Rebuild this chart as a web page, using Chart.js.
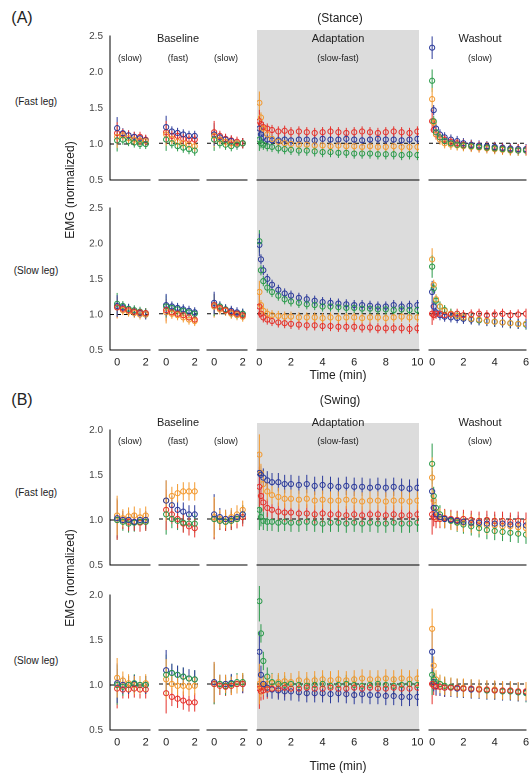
<!DOCTYPE html>
<html>
<head>
<meta charset="utf-8">
<script src="https://cdn.jsdelivr.net/npm/chart.js"></script>
<style>
  body { margin: 0; width: 531px; height: 776px; overflow: hidden; background: #fff; position: relative; font-family: "Liberation Sans", Arial, sans-serif; color: #222; }
  .t { position: absolute; white-space: nowrap; transform: translate(-50%, -50%); }
  .band { position: absolute; background: #dcdcdc; }
  canvas { position: absolute; }
</style>
</head>
<body>
<script>
// time points
const baseT = [0, 0.4, 0.8, 1.2, 1.6, 2.0];
const adaptT = [0, 0.1, 0.25, 0.5, 0.8, 1.2, 1.6, 2, 2.5, 3, 3.5, 4, 4.5, 5, 5.5, 6, 6.5, 7, 7.5, 8, 8.5, 9, 9.5, 10];
const washT = [0, 0.1, 0.25, 0.5, 0.8, 1.2, 1.6, 2, 2.5, 3, 3.5, 4, 4.5, 5, 5.5, 6];

const baseTicks = [0, 2];
const adaptTicks = [0, 2, 4, 6, 8, 10];
const washTicks = [0, 2, 4, 6];

// (A) Stance, fast leg  -- baseline arrays hold slow / fast / slow blocks of 6
const aFastBlueBase = [1.22,1.15,1.12,1.1,1.08,1.05, 1.22,1.16,1.14,1.12,1.1,1.1, 1.12,1.08,1.05,1.03,1.0,1.0];
const aFastRedBase = [1.15,1.14,1.12,1.1,1.1,1.06, 1.15,1.1,1.1,1.06,1.05,1.05, 1.15,1.1,1.06,1.04,1.02,1.0];
const aFastOrangeBase = [1.1,1.12,1.08,1.06,1.05,1.04, 1.12,1.06,1.02,1.0,0.98,0.96, 1.1,1.05,1.02,1.0,1.0,1.0];
const aFastGreenBase = [1.05,1.06,1.04,1.02,1.0,1.0, 1.05,1.0,0.96,0.94,0.92,0.9, 1.05,1.0,0.98,0.96,0.98,1.0];
const aFastBlueAdapt = [1.2,1.12,1.08,1.05,1.04,1.04,1.05,1.04,1.05,1.05,1.04,1.06,1.05,1.05,1.06,1.05,1.04,1.05,1.06,1.05,1.05,1.04,1.05,1.06];
const aFastRedAdapt = [1.3,1.26,1.22,1.2,1.18,1.16,1.17,1.15,1.16,1.15,1.14,1.15,1.16,1.15,1.14,1.15,1.16,1.15,1.14,1.15,1.16,1.15,1.14,1.16];
const aFastOrangeAdapt = [1.55,1.35,1.2,1.12,1.06,1.02,1.0,0.99,0.98,0.98,0.97,0.97,0.96,0.97,0.96,0.96,0.95,0.96,0.95,0.95,0.96,0.95,0.95,0.95];
const aFastGreenAdapt = [1.05,1.0,0.98,0.96,0.95,0.93,0.92,0.91,0.9,0.9,0.89,0.88,0.88,0.87,0.87,0.86,0.86,0.86,0.85,0.85,0.85,0.84,0.85,0.84];
const aFastBlueWash = [2.3,1.45,1.2,1.12,1.08,1.05,1.03,1.0,0.98,0.97,0.96,0.95,0.94,0.93,0.92,0.92];
const aFastRedWash = [1.3,1.18,1.12,1.08,1.05,1.02,1.0,0.98,0.97,0.96,0.95,0.94,0.93,0.92,0.92,0.91];
const aFastOrangeWash = [1.6,1.28,1.12,1.05,1.0,0.98,0.97,0.96,0.95,0.94,0.93,0.92,0.91,0.9,0.9,0.9];
const aFastGreenWash = [1.85,1.3,1.15,1.08,1.03,1.0,0.98,0.97,0.96,0.95,0.94,0.93,0.92,0.91,0.9,0.9];

// (A) Stance, slow leg
const aSlowBlueBase = [1.12,1.1,1.08,1.04,1.02,1.0, 1.12,1.1,1.08,1.06,1.04,1.02, 1.15,1.1,1.06,1.04,1.02,1.0];
const aSlowRedBase = [1.1,1.08,1.06,1.04,1.03,1.02, 1.05,1.02,1.0,0.98,0.95,0.92, 1.12,1.08,1.05,1.02,1.0,0.98];
const aSlowOrangeBase = [1.1,1.06,1.04,1.02,1.0,1.0, 1.02,1.0,0.98,0.95,0.92,0.9, 1.1,1.06,1.04,1.0,0.98,0.96];
const aSlowGreenBase = [1.15,1.12,1.08,1.06,1.04,1.02, 1.1,1.08,1.06,1.04,1.02,1.0, 1.12,1.1,1.06,1.02,1.0,1.0];
const aSlowBlueAdapt = [1.95,1.75,1.6,1.48,1.4,1.33,1.28,1.25,1.22,1.2,1.18,1.16,1.15,1.14,1.13,1.12,1.12,1.11,1.1,1.1,1.12,1.1,1.11,1.12];
const aSlowRedAdapt = [1.1,1.0,0.95,0.92,0.9,0.88,0.87,0.86,0.85,0.84,0.84,0.83,0.83,0.82,0.82,0.82,0.81,0.81,0.8,0.8,0.8,0.8,0.79,0.8];
const aSlowOrangeAdapt = [1.3,1.12,1.04,1.0,0.98,0.97,0.96,0.96,0.95,0.95,0.95,0.94,0.95,0.94,0.95,0.95,0.94,0.95,0.95,0.94,0.95,0.96,0.95,0.95];
const aSlowGreenAdapt = [2.0,1.6,1.45,1.36,1.3,1.25,1.2,1.17,1.15,1.13,1.12,1.1,1.1,1.09,1.08,1.08,1.07,1.07,1.06,1.06,1.05,1.06,1.05,1.05];
const aSlowBlueWash = [1.3,1.1,1.02,0.98,0.96,0.95,0.94,0.93,0.92,0.91,0.9,0.89,0.88,0.87,0.86,0.86];
const aSlowRedWash = [1.0,0.98,1.0,1.0,0.98,0.99,1.0,0.98,0.99,1.0,0.98,0.99,1.0,0.98,0.99,1.0];
const aSlowOrangeWash = [1.75,1.4,1.2,1.1,1.04,1.0,0.97,0.95,0.93,0.92,0.9,0.89,0.88,0.87,0.86,0.86];
const aSlowGreenWash = [1.65,1.35,1.18,1.1,1.05,1.0,0.97,0.95,0.93,0.91,0.9,0.89,0.88,0.87,0.86,0.85];

// (B) Swing, fast leg
const bFastBlueBase = [1.02,1.0,1.0,0.98,1.0,1.0, 1.2,1.15,1.1,1.08,1.05,1.05, 1.05,1.02,1.0,1.0,1.02,1.05];
const bFastRedBase = [1.0,1.0,0.98,0.98,0.97,0.98, 1.1,1.05,1.0,0.95,0.92,0.9, 1.0,0.98,0.97,0.98,1.0,1.02];
const bFastOrangeBase = [1.05,1.02,1.04,1.05,1.03,1.05, 1.2,1.25,1.28,1.3,1.3,1.3, 1.02,1.0,1.0,1.02,1.05,1.1];
const bFastGreenBase = [1.0,0.98,0.96,0.97,0.98,0.98, 1.05,1.0,0.98,0.96,0.95,0.95, 1.0,0.98,0.97,0.98,1.0,1.05];
const bFastBlueAdapt = [1.5,1.48,1.45,1.42,1.4,1.4,1.38,1.38,1.37,1.38,1.36,1.37,1.36,1.35,1.36,1.35,1.35,1.34,1.35,1.34,1.35,1.34,1.33,1.34];
const bFastRedAdapt = [1.35,1.25,1.18,1.12,1.1,1.08,1.07,1.07,1.06,1.06,1.05,1.06,1.05,1.05,1.04,1.05,1.04,1.05,1.05,1.04,1.05,1.04,1.04,1.05];
const bFastOrangeAdapt = [1.7,1.5,1.38,1.3,1.26,1.24,1.22,1.22,1.21,1.22,1.2,1.21,1.2,1.2,1.21,1.2,1.19,1.2,1.2,1.19,1.2,1.2,1.19,1.2];
const bFastGreenAdapt = [1.1,1.02,0.98,0.97,0.97,0.96,0.97,0.96,0.96,0.97,0.96,0.95,0.96,0.96,0.95,0.96,0.95,0.96,0.95,0.95,0.96,0.95,0.95,0.96];
const bFastBlueWash = [1.3,1.12,1.05,1.02,1.0,0.99,0.98,0.97,0.96,0.96,0.95,0.95,0.95,0.94,0.94,0.93];
const bFastRedWash = [1.05,1.02,1.0,1.0,1.01,1.0,0.99,1.0,0.99,0.98,0.99,0.98,0.98,0.97,0.98,0.97];
const bFastOrangeWash = [1.45,1.2,1.08,1.02,1.0,0.98,0.97,0.96,0.95,0.94,0.93,0.93,0.92,0.92,0.91,0.9];
const bFastGreenWash = [1.6,1.25,1.12,1.05,1.0,0.98,0.96,0.94,0.92,0.9,0.88,0.87,0.86,0.85,0.84,0.83];

// (B) Swing, slow leg
const bSlowBlueBase = [1.02,1.0,1.0,1.01,1.0,1.0, 1.15,1.12,1.1,1.08,1.06,1.05, 1.02,1.0,1.0,1.01,1.0,1.0];
const bSlowRedBase = [0.96,0.95,0.95,0.96,0.95,0.95, 0.9,0.86,0.84,0.82,0.8,0.8, 1.0,0.98,0.97,0.98,1.0,1.0];
const bSlowOrangeBase = [1.08,1.05,1.02,1.0,1.0,1.02, 1.05,1.0,0.98,0.98,0.97,0.98, 1.02,1.0,1.0,0.98,1.0,1.02];
const bSlowGreenBase = [1.0,0.98,1.0,1.02,1.0,1.0, 1.1,1.12,1.1,1.08,1.06,1.05, 1.0,1.0,0.98,1.0,1.02,1.02];
const bSlowBlueAdapt = [1.35,1.1,1.0,0.96,0.94,0.93,0.92,0.92,0.91,0.9,0.9,0.9,0.89,0.9,0.89,0.88,0.89,0.88,0.88,0.87,0.87,0.86,0.86,0.86];
const bSlowRedAdapt = [0.95,0.92,0.93,0.94,0.95,0.95,0.96,0.95,0.95,0.96,0.95,0.95,0.96,0.95,0.95,0.96,0.95,0.96,0.95,0.95,0.96,0.95,0.95,0.96];
const bSlowOrangeAdapt = [1.0,0.96,0.98,1.0,1.01,1.02,1.03,1.02,1.04,1.03,1.04,1.05,1.04,1.05,1.04,1.05,1.06,1.05,1.05,1.06,1.05,1.06,1.05,1.06];
const bSlowGreenAdapt = [1.9,1.55,1.25,1.08,1.02,1.0,0.99,1.0,0.99,0.98,0.99,1.0,0.98,0.99,1.0,0.99,0.98,0.99,1.0,0.99,0.98,0.99,1.0,0.99];
const bSlowBlueWash = [1.35,1.02,0.98,0.97,0.96,0.96,0.95,0.95,0.94,0.94,0.93,0.93,0.92,0.92,0.91,0.91];
const bSlowRedWash = [1.0,0.98,0.97,0.97,0.96,0.96,0.96,0.95,0.95,0.94,0.94,0.93,0.93,0.93,0.92,0.92];
const bSlowOrangeWash = [1.6,1.2,1.05,1.0,0.98,0.97,0.96,0.96,0.95,0.95,0.94,0.94,0.93,0.93,0.92,0.92];
const bSlowGreenWash = [1.1,1.05,1.02,1.0,0.98,0.97,0.96,0.95,0.95,0.94,0.93,0.93,0.92,0.92,0.91,0.9];

const colors = { blue: '#2b3a9a', red: '#e5312b', orange: '#f3992e', green: '#2a9a4a' };
const stanceErr = 0.07;
const swingErr = 0.1;

// layout
const segs = [
  { l: 110, r: 150, min: -0.5, max: 2.3, ticks: baseTicks, t: baseT, block: 0 },
  { l: 159, r: 199, min: -0.5, max: 2.3, ticks: baseTicks, t: baseT, block: 1 },
  { l: 207, r: 247, min: -0.5, max: 2.3, ticks: baseTicks, t: baseT, block: 2 },
  { l: 257, r: 419, min: -0.15, max: 10.1, ticks: adaptTicks, t: adaptT, block: 'adapt' },
  { l: 429, r: 526, min: -0.2, max: 6, ticks: washTicks, t: washT, block: 'wash' }
];

const rows = [
  { top: 33, bot: 180, min: 0.5, max: 2.5, err: stanceErr, labels: false,
    s: { green: [aFastGreenBase, aFastGreenAdapt, aFastGreenWash], orange: [aFastOrangeBase, aFastOrangeAdapt, aFastOrangeWash],
         blue: [aFastBlueBase, aFastBlueAdapt, aFastBlueWash], red: [aFastRedBase, aFastRedAdapt, aFastRedWash] } },
  { top: 205, bot: 350, min: 0.5, max: 2.5, err: stanceErr, labels: true,
    s: { red: [aSlowRedBase, aSlowRedAdapt, aSlowRedWash], orange: [aSlowOrangeBase, aSlowOrangeAdapt, aSlowOrangeWash],
         green: [aSlowGreenBase, aSlowGreenAdapt, aSlowGreenWash], blue: [aSlowBlueBase, aSlowBlueAdapt, aSlowBlueWash] } },
  { top: 427, bot: 565, min: 0.5, max: 2.0, err: swingErr, labels: false,
    s: { blue: [bFastBlueBase, bFastBlueAdapt, bFastBlueWash], green: [bFastGreenBase, bFastGreenAdapt, bFastGreenWash],
         red: [bFastRedBase, bFastRedAdapt, bFastRedWash], orange: [bFastOrangeBase, bFastOrangeAdapt, bFastOrangeWash] } },
  { top: 592, bot: 730, min: 0.5, max: 2.0, err: swingErr, labels: true,
    s: { red: [bSlowRedBase, bSlowRedAdapt, bSlowRedWash], green: [bSlowGreenBase, bSlowGreenAdapt, bSlowGreenWash],
         blue: [bSlowBlueBase, bSlowBlueAdapt, bSlowBlueWash], orange: [bSlowOrangeBase, bSlowOrangeAdapt, bSlowOrangeWash] } }
];

// grey adaptation bands
[[30, 350], [423, 730]].forEach(([a, b]) => {
  const d = document.createElement('div');
  d.className = 'band';
  d.style.left = '257px'; d.style.width = '162px';
  d.style.top = a + 'px'; d.style.height = (b - a) + 'px';
  document.body.appendChild(d);
});

// error bars + dashed reference line at 1.0
const extras = {
  id: 'extras',
  beforeDatasetsDraw(chart) {
    const { ctx, chartArea, scales } = chart;
    const y1 = scales.y.getPixelForValue(1);
    ctx.save();
    ctx.strokeStyle = '#000';
    ctx.lineWidth = 1;
    ctx.setLineDash([4, 3]);
    ctx.beginPath();
    ctx.moveTo(chartArea.left, y1);
    ctx.lineTo(chartArea.right, y1);
    ctx.stroke();
    ctx.setLineDash([]);
    chart.data.datasets.forEach((ds, i) => {
      const meta = chart.getDatasetMeta(i);
      ctx.strokeStyle = ds.borderColor;
      meta.data.forEach((p, j) => {
        const v = ds.data[j].y;
        const e = ds.err * (j === 0 ? 2.2 : 1);
        ctx.beginPath();
        ctx.moveTo(p.x, scales.y.getPixelForValue(v - e));
        ctx.lineTo(p.x, scales.y.getPixelForValue(v + e));
        ctx.stroke();
      });
    });
    ctx.restore();
  }
};

const PAD = 12, YW = 30, XH = 20;

rows.forEach(row => {
  segs.forEach((seg, si) => {
    const first = si === 0;
    const cv = document.createElement('canvas');
    const left = seg.l - PAD - (first ? YW : 0);
    const w = seg.r - seg.l + 2 * PAD + (first ? YW : 0);
    const top = row.top - 6;
    const h = row.bot - row.top + 6 + XH;
    cv.width = w; cv.height = h;
    cv.style.left = left + 'px'; cv.style.top = top + 'px';
    cv.style.width = w + 'px'; cv.style.height = h + 'px';
    document.body.appendChild(cv);

    const datasets = Object.keys(row.s).map(c => {
      const arrs = row.s[c];
      let vals;
      if (seg.block === 'adapt') vals = arrs[1];
      else if (seg.block === 'wash') vals = arrs[2];
      else vals = arrs[0].slice(seg.block * 6, seg.block * 6 + 6);
      return {
        data: vals.map((v, k) => ({ x: seg.t[k], y: v })),
        borderColor: colors[c], backgroundColor: 'rgba(0,0,0,0)',
        showLine: false, pointRadius: 2.6, pointBorderWidth: 1, err: row.err
      };
    });

    new Chart(cv, {
      type: 'scatter',
      data: { datasets },
      plugins: [extras],
      options: {
        responsive: false, animation: false, devicePixelRatio: 2,
        layout: { padding: { left: PAD, right: PAD, top: 6, bottom: 0 } },
        plugins: { legend: { display: false }, tooltip: { enabled: false } },
        scales: {
          x: {
            type: 'linear', min: seg.min, max: seg.max,
            afterBuildTicks: s => { s.ticks = seg.ticks.map(v => ({ value: v })); },
            afterFit: s => { s.height = XH; },
            grid: { display: false, drawTicks: true, tickLength: 4, color: '#000' },
            border: { color: '#000', width: 1 },
            ticks: { display: row.labels, color: '#222', font: { family: 'Liberation Sans', size: 11 }, padding: 2, maxRotation: 0, autoSkip: false }
          },
          y: {
            display: first, min: row.min, max: row.max,
            afterBuildTicks: s => { const t = []; for (let v = row.min; v <= row.max + 1e-9; v += 0.5) t.push({ value: v }); s.ticks = t; },
            afterFit: s => { s.width = first ? YW : 0; },
            grid: { display: false, drawTicks: true, tickLength: 4, color: '#000' },
            border: { color: '#000', width: 1 },
            ticks: { color: '#444', font: { family: 'Liberation Sans', size: 10 }, padding: 3, callback: v => v.toFixed(1) }
          }
        }
      }
    });
  });
});

// text
const texts = [
  ['(A)', 22, 18, 16], ['(Stance)', 340, 18, 12],
  ['Baseline', 178, 38, 11], ['(slow)', 130, 58, 9], ['(fast)', 178, 58, 9], ['(slow)', 226, 58, 9],
  ['Adaptation', 338, 38, 11], ['(slow-fast)', 338, 58, 9], ['Washout', 480, 38, 11], ['(slow)', 480, 58, 9],
  ['(Fast leg)', 36, 101, 10], ['(Slow leg)', 36, 270, 10], ['Time (min)', 338, 375, 12],
  ['(B)', 22, 400, 16], ['(Swing)', 340, 400, 12],
  ['Baseline', 178, 422, 11], ['(slow)', 130, 441, 9], ['(fast)', 178, 441, 9], ['(slow)', 226, 441, 9],
  ['Adaptation', 338, 422, 11], ['(slow-fast)', 338, 441, 9], ['Washout', 480, 422, 11], ['(slow)', 480, 441, 9],
  ['(Fast leg)', 36, 492, 10], ['(Slow leg)', 36, 660, 10], ['Time (min)', 338, 766, 12]
];
texts.forEach(([s, x, y, f]) => {
  const d = document.createElement('div');
  d.className = 't'; d.textContent = s;
  d.style.left = x + 'px'; d.style.top = y + 'px'; d.style.fontSize = f + 'px';
  document.body.appendChild(d);
});
[[70, 190], [70, 578]].forEach(([x, y]) => {
  const d = document.createElement('div');
  d.className = 't'; d.textContent = 'EMG (normalized)';
  d.style.left = x + 'px'; d.style.top = y + 'px'; d.style.fontSize = '12px';
  d.style.transform = 'translate(-50%, -50%) rotate(-90deg)';
  document.body.appendChild(d);
});
</script>
</body>
</html>
